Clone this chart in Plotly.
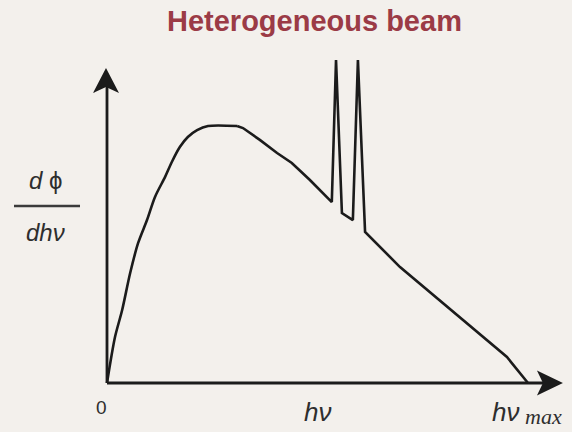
import plotly.graph_objects as go

# ---- data (photon energy as fraction of hv_max, fluence per energy, relative to peak) ----
hv = [0.000, 0.019, 0.036, 0.055, 0.074, 0.095, 0.114, 0.138, 0.154, 0.173, 0.192, 0.214,
      0.240, 0.309, 0.323, 0.363, 0.404, 0.439, 0.482, 0.534, 0.544, 0.558, 0.584, 0.596,
      0.613, 0.696, 0.760, 0.822, 0.893, 0.950, 1.000]
intensity = [0.000, 0.179, 0.284, 0.428, 0.545, 0.634, 0.724, 0.802, 0.860, 0.918, 0.957, 0.984,
             1.000, 1.000, 0.992, 0.946, 0.895, 0.856, 0.790, 0.704, 1.257, 0.661, 0.634, 1.257,
             0.588, 0.451, 0.362, 0.276, 0.179, 0.101, 0.000]

title_text = "Heterogeneous beam"
x_labels = ["0", "hν", "hν"]
x_sub_label = "max"
x_label_pos = [-0.012, 0.501, 0.946]
x_axis_end = 1.083
y_axis_end = 1.226

W, H = 572, 432
BG = "#f3f0ec"
INK = "#1b1b1b"
TXT = "#2e2e2e"
X0PX, Y0PX, XSC, YSC = 107, 383, 421, 257

def px(xp):
    return xp / W

def py(yp):
    return 1 - yp / H

def path_from_px(points):
    return "M " + " L ".join(f"{px(a):.5f},{py(b):.5f}" for a, b in points) + " Z"

fig = go.Figure()
split = 13  # smooth rising part, straight segments for the rest (spikes)
fig.add_trace(go.Scatter(x=hv[:split + 1], y=intensity[:split + 1], mode="lines",
                         line=dict(color=INK, width=2.6, shape="spline", smoothing=0.8),
                         hoverinfo="skip"))
fig.add_trace(go.Scatter(x=hv[split:], y=intensity[split:], mode="lines",
                         line=dict(color=INK, width=2.6), hoverinfo="skip"))

fig.update_layout(
    width=W, height=H,
    margin=dict(l=0, r=0, t=0, b=0),
    paper_bgcolor=BG, plot_bgcolor=BG,
    showlegend=False,
    xaxis=dict(range=[-X0PX / XSC, (W - X0PX) / XSC], visible=False, fixedrange=True),
    yaxis=dict(range=[(Y0PX - H) / YSC, Y0PX / YSC], visible=False, fixedrange=True),
)

# axis lines
fig.add_shape(type="line", xref="x", yref="y", x0=0, y0=0, x1=x_axis_end - 0.03, y1=0,
              line=dict(color=INK, width=2.8))
fig.add_shape(type="line", xref="x", yref="y", x0=0, y0=0, x1=0, y1=y_axis_end - 0.05,
              line=dict(color=INK, width=2.8))
# arrowheads (pixel geometry)
xt = X0PX + x_axis_end * XSC
yt = Y0PX - y_axis_end * YSC
fig.add_shape(type="path", xref="paper", yref="paper", line=dict(width=0), fillcolor=INK,
              path=path_from_px([(xt, Y0PX), (xt - 26, Y0PX - 12.5), (xt - 20, Y0PX), (xt - 26, Y0PX + 12.5)]))
fig.add_shape(type="path", xref="paper", yref="paper", line=dict(width=0), fillcolor=INK,
              path=path_from_px([(X0PX - 1, yt), (X0PX + 12, yt + 25), (X0PX - 1, yt + 19), (X0PX - 14, yt + 25)]))

# title
fig.add_annotation(x=px(314), y=py(21), xref="paper", yref="paper", showarrow=False,
                   text="<b>" + title_text + "</b>",
                   font=dict(family="Liberation Sans, Arial", size=29, color="#9b3b46"),
                   xanchor="center", yanchor="middle")

# x labels
fig.add_annotation(x=x_label_pos[0], y=(Y0PX - 407) / YSC, xref="x", yref="y", showarrow=False,
                   text=x_labels[0], font=dict(family="Liberation Sans, Arial", size=19, color=TXT),
                   xanchor="center", yanchor="middle")
fig.add_annotation(x=x_label_pos[1], y=(Y0PX - 412) / YSC, xref="x", yref="y", showarrow=False,
                   text="<i>" + x_labels[1] + "</i>",
                   font=dict(family="Liberation Sans, Arial", size=26, color=TXT),
                   xanchor="center", yanchor="middle")
fig.add_annotation(x=x_label_pos[2], y=(Y0PX - 412) / YSC, xref="x", yref="y", showarrow=False,
                   text="<i>" + x_labels[2] + "</i>",
                   font=dict(family="Liberation Sans, Arial", size=26, color=TXT),
                   xanchor="center", yanchor="middle")
fig.add_annotation(x=px(523), y=py(416), xref="paper", yref="paper", showarrow=False,
                   text="<i>" + x_sub_label + "</i>",
                   font=dict(family="Liberation Serif, Times New Roman", size=22, color=TXT),
                   xanchor="left", yanchor="middle")

# y label as a fraction
fig.add_annotation(x=px(45), y=py(180), xref="paper", yref="paper", showarrow=False,
                   text="<i>d</i> ϕ", font=dict(family="Liberation Sans, Arial", size=24, color=TXT),
                   xanchor="center", yanchor="middle")
fig.add_annotation(x=px(45), y=py(232), xref="paper", yref="paper", showarrow=False,
                   text="<i>dhν</i>", font=dict(family="Liberation Sans, Arial", size=24, color=TXT),
                   xanchor="center", yanchor="middle")
fig.add_shape(type="line", xref="paper", yref="paper", x0=px(14), x1=px(80), y0=py(206), y1=py(206),
              line=dict(color="#3a3a3a", width=2.5))

fig.write_html("out.html", config={"displayModeBar": False},
               post_script="document.body.style.margin='0';document.body.style.overflow='hidden';")
